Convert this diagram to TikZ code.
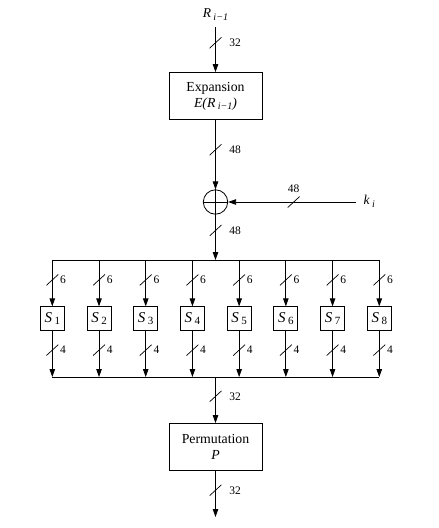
\documentclass[tikz,border=0pt]{standalone}
\usepackage{fontspec}
\setmainfont{Liberation Serif}
\usetikzlibrary{arrows.meta}
\newcommand\subit[1]{\raisebox{-0.4ex}{\fontsize{10}{10}\selectfont\itshape #1}}
\newcommand\subnum[1]{\raisebox{-2.4pt}{\fontsize{11}{11}\selectfont #1}}
\begin{document}
\begin{tikzpicture}[x=1pt,y=-1pt,
 ln/.style={line width=0.8pt},
 arr/.style={draw, line width=0.8pt, -{Triangle[length=8pt,width=5.5pt]}},
 box/.style={draw, line width=0.8pt, minimum width=93pt, minimum height=47pt, align=center, inner sep=0, font=\fontsize{13.8}{16}\selectfont},
 sbox/.style={draw, line width=0.8pt, minimum width=24pt, minimum height=23.5pt, inner sep=0, font=\fontsize{15}{15}\selectfont},
 bitmark/.style={inner sep=0, minimum width=12pt, minimum height=11pt, path picture={\draw[-, line width=0.7pt] (path picture bounding box.south west) -- (path picture bounding box.north east);}},
 lbl/.style={font=\fontsize{11.5}{11.5}\selectfont, inner sep=0},
 txt/.style={inner sep=0, font=\fontsize{13.5}{13.5}\selectfont},
]
\useasboundingbox (0,0) rectangle (439,528);

% top input
\node[txt] (rin) at (215.5,14.5) {\textit{R}\,\subit{i−1}};
\coordinate (top) at (215.5,27);
\node[box] (exp) at (215.5,96) {Expansion\\\textit{E(R}\,\subit{i−1}\textit{)}};
\draw[arr] (top) -- node[pos=0.35, bitmark, label={[lbl, label distance=7pt]right:32}] (m1) {} (exp.north);

% xor
\node[circle, draw, line width=0.8pt, minimum size=24.4pt, inner sep=0] (xor) at (215.5,202) {};
\draw[ln] (xor.north) -- (xor.south) (xor.west) -- (xor.east);
\draw[arr] (exp.south) -- node[pos=0.43, bitmark, label={[lbl, label distance=7pt]right:48}] (m2) {} (xor.north);

% key
\node[txt, anchor=west] (key) at (363.5,201.5) {\textit{k}\,\subit{i}};
\coordinate (kend) at (356,202);
\draw[arr] (kend) -- node[pos=0.487, bitmark, label={[lbl, label distance=3pt]above:48}] (m3) {} (xor.east);

% top bus
\coordinate (bm) at (215.5,260);
\draw[arr] (xor.south) -- node[pos=0.35, bitmark, label={[lbl, label distance=7pt]right:48}] (m4) {} (bm);
\coordinate (b1) at (52.3,260);
\coordinate (b8) at (379.3,260);
\draw[ln] (b1) -- (b8);

% bottom bus
\coordinate (c1) at (52.3,377);
\coordinate (c8) at (379.3,377);
\coordinate (cm) at (215.5,377);
\draw[ln] (c1) -- (c8);

% S boxes
\foreach \i in {1,...,8}{
  \pgfmathsetmacro{\xx}{52.3+46.71*(\i-1)}
  \coordinate (b\i) at (\xx,260);
  \coordinate (c\i) at (\xx,377);
  \node[sbox] (s\i) at (\xx,318.5) {\textit{S}\,\subnum{\i}};
  \draw[arr] (b\i) -- node[pos=0.43, bitmark, label={[lbl, label distance=1pt]right:6}] (u\i) {} (s\i.north);
  \draw[arr] (s\i.south) -- node[pos=0.42, bitmark, label={[lbl, label distance=1pt]right:4}] (d\i) {} (c\i);
}

% permutation
\node[box] (perm) at (215.5,447) {Permutation\\\textit{P}};
\draw[arr] (cm) -- node[pos=0.42, bitmark, label={[lbl, label distance=7pt]right:32}] (m5) {} (perm.north);
\coordinate (out) at (215.5,517);
\draw[arr] (perm.south) -- node[pos=0.42, bitmark, label={[lbl, label distance=7pt]right:32}] (m6) {} (out);
\end{tikzpicture}
\end{document}
